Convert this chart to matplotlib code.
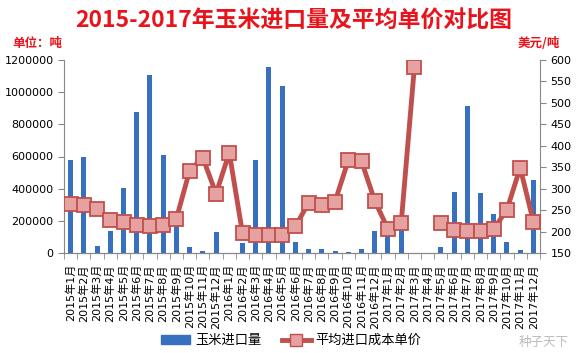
import numpy as np
import matplotlib
matplotlib.use("Agg")
import matplotlib.pyplot as plt
from matplotlib.lines import Line2D
from matplotlib.patches import Patch

plt.rcParams['font.family'] = ['Noto Sans CJK SC', 'DejaVu Sans']

### DATA ###
months = []
for y in (2015, 2016, 2017):
    for m in range(1, 13):
        months.append(str(y) + "年" + str(m) + "月")

# 玉米进口量 (吨)
volume = [576000, 600000, 45000, 139000, 403000, 877000, 1106000, 607000, 166000, 40000,
          14000, 128000, 0, 60000, 576000, 1154000, 1038000, 66000, 25000, 22000,
          14000, 8000, 27000, 139000, 115000, 190000, 0, 0, 39000, 382000,
          913000, 374000, 245000, 70000, 20000, 451000]

# 平均进口成本单价 (美元/吨)
price = [265, 261, 253, 227, 223, 216, 212, 215, 230, 342,
         372, 288, 384, 196, 193, 191, 191, 212, 267, 261,
         270, 366, 364, 272, 206, 219, 584, np.nan, 219, 204,
         201, 201, 206, 251, 349, 223]

bar_color = "#3670bf"
line_color = "#c0504d"
marker_fill = "#e6a2a0"
red_text = "#e8141c"

### PLOT ###
fig = plt.figure(figsize=(5.83, 3.53), dpi=100)
ax = fig.add_axes([64/583, 1-253/353, 476/583, 193/353])
ax2 = ax.twinx()

x = np.arange(len(months))
ax.bar(x, volume, width=0.38, color=bar_color, zorder=2)
ax2.plot(x, price, color=line_color, linewidth=3.5, marker="s", markersize=9.5,
         markerfacecolor=marker_fill, markeredgecolor=line_color, markeredgewidth=1.3, zorder=3)

ax.set_xlim(-0.5, len(months) - 0.5)
ax.set_ylim(0, 1200000)
ax.set_yticks(np.arange(0, 1200001, 200000))
ax.set_yticklabels([str(v) for v in range(0, 1200001, 200000)], fontsize=8, family='DejaVu Sans')
ax2.set_ylim(150, 600)
ax2.set_yticks(np.arange(150, 601, 50))
ax2.set_yticklabels([str(v) for v in range(150, 601, 50)], fontsize=8, family='DejaVu Sans')

ax.set_xticks(x)
ax.set_xticklabels(months, rotation=90, fontsize=8, family=['DejaVu Sans', 'Noto Sans CJK SC'])
ax.set_xticks(np.arange(-0.5, len(months), 1), minor=True)
ax.tick_params(axis='x', which='major', length=0, pad=8)
ax.tick_params(axis='x', which='minor', length=4, color="#888888")
ax.tick_params(axis='y', length=4, color="#888888")
ax2.tick_params(axis='y', length=4, color="#888888")

for a in (ax, ax2):
    for s in ("top", "right", "left"):
        a.spines[s].set_visible(False)
    a.spines["bottom"].set_color("#888888")
ax.spines["left"].set_visible(True)
ax.spines["left"].set_color("#888888")
ax2.spines["right"].set_visible(True)
ax2.spines["right"].set_color("#888888")
ax.set_zorder(ax2.get_zorder() - 1)
ax.patch.set_visible(False)

fig.text(0.503, 0.94, "2015-2017年玉米进口量及平均单价对比图", color=red_text,
         fontsize=16.5, fontweight="bold", ha="center", va="center")
fig.text(0.022, 0.877, "单位：吨", color=red_text, fontsize=9, fontweight="bold", va="center")
fig.text(0.961, 0.877, "美元/吨", color=red_text, fontsize=9, fontweight="bold", va="center", ha="right")

handles = [Patch(color=bar_color),
           Line2D([0], [0], color=line_color, linewidth=3.5, marker="s", markersize=8,
                  markerfacecolor=marker_fill, markeredgecolor=line_color)]
fig.legend(handles, ["玉米进口量", "平均进口成本单价"], loc="center", bbox_to_anchor=(0.5, 0.035),
           ncol=2, frameon=False, fontsize=9.5, handlelength=2.2, columnspacing=1.5, handletextpad=0.4)

fig.text(0.975, 0.03, "种子天下", color="#bbbbbb", fontsize=9, ha="right", va="center")

plt.savefig("out.png", dpi=100)
